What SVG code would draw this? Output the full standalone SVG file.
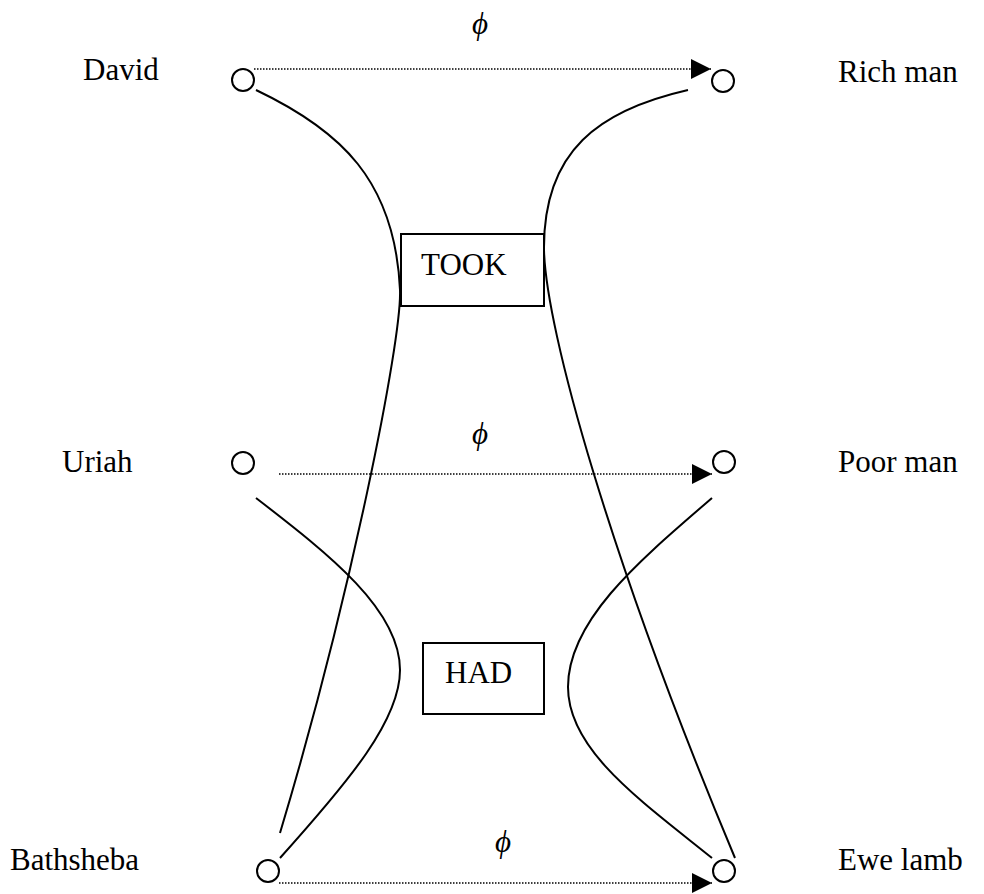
<svg xmlns="http://www.w3.org/2000/svg" width="984" height="894" viewBox="0 0 984 894">
<defs>
<style>
.lbl{font-family:"Liberation Serif","Times New Roman",serif;font-size:31px;fill:#000}
.phi{font-family:"Liberation Serif","Times New Roman",serif;font-size:31px;font-style:italic;fill:#000}
.node{fill:#fff;stroke:#000;stroke-width:2}
.box{fill:none;stroke:#000;stroke-width:2}
.curve{fill:none;stroke:#000;stroke-width:2}
.dot{fill:none;stroke:#000;stroke-width:1.5;stroke-dasharray:1.5 1.5}
</style>
<marker id="arr" viewBox="0 0 20 20" refX="20" refY="10" markerWidth="20" markerHeight="20" markerUnits="userSpaceOnUse" orient="auto">
<path d="M0,0 L20,10 L0,20 Z" fill="#000"/>
</marker>
</defs>
<rect width="984" height="894" fill="#fff"/>
<g id="connectors">
<path class="dot" d="M254,69 H711" marker-end="url(#arr)"/>
<path class="dot" d="M279,474 H712" marker-end="url(#arr)"/>
<path class="dot" d="M279,883 H712" marker-end="url(#arr)"/>
<path class="curve" d="M256,90 C340,130 395,180 400,290 C402,340 350,600 280,833"/>
<path class="curve" d="M688,90 C600,110 543,150 544,250 C546,330 610,560 735,858"/>
<path class="curve" d="M256,498 C330,555 400,610 400,670 C400,720 350,780 280,858"/>
<path class="curve" d="M712,498 C640,560 568,620 568,687 C568,750 640,800 712,858"/>
<text class="phi" x="480" y="34" text-anchor="middle">ϕ</text>
<text class="phi" x="480" y="444" text-anchor="middle">ϕ</text>
<text class="phi" x="503" y="852" text-anchor="middle">ϕ</text>
</g>
<g id="took">
<rect class="box" x="401" y="234" width="143" height="72" fill="#fff"/>
<text class="lbl" x="421" y="275">TOOK</text>
</g>
<g id="had">
<rect class="box" x="423" y="643" width="121" height="71"/>
<text class="lbl" x="445" y="683">HAD</text>
</g>
<g id="david">
<circle class="node" cx="243" cy="80" r="11"/>
<text class="lbl" x="83" y="80">David</text>
</g>
<g id="richman">
<circle class="node" cx="723" cy="81" r="11"/>
<text class="lbl" x="838" y="82">Rich man</text>
</g>
<g id="uriah">
<circle class="node" cx="243" cy="463" r="11"/>
<text class="lbl" x="62" y="472">Uriah</text>
</g>
<g id="poorman">
<circle class="node" cx="724" cy="462" r="11"/>
<text class="lbl" x="838" y="472">Poor man</text>
</g>
<g id="bathsheba">
<circle class="node" cx="268" cy="871" r="11"/>
<text class="lbl" x="10" y="870">Bathsheba</text>
</g>
<g id="ewelamb">
<circle class="node" cx="724" cy="871" r="11"/>
<text class="lbl" x="838" y="870">Ewe lamb</text>
</g>
</svg>
